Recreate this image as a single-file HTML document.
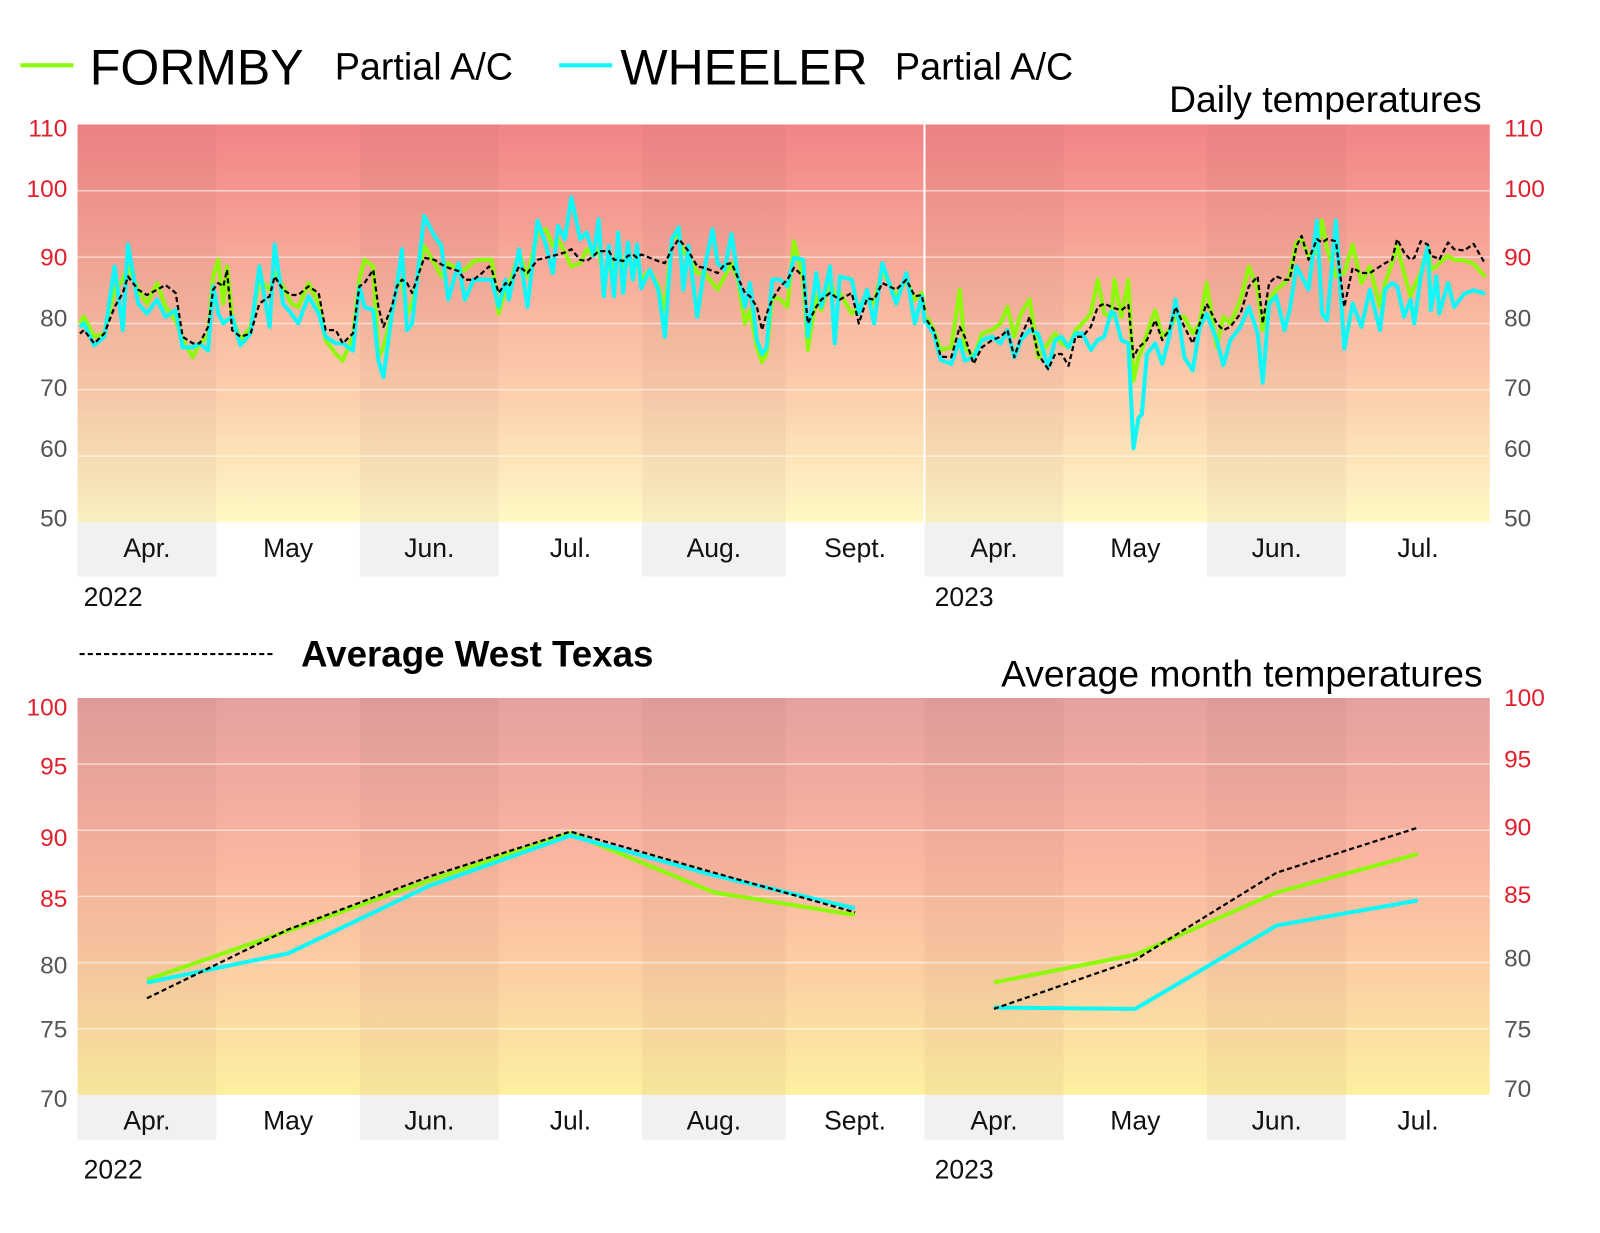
<!DOCTYPE html>
<html><head><meta charset="utf-8"><style>
html,body{margin:0;padding:0;background:#fff}
svg{display:block}
text{font-family:"Liberation Sans",Arial,sans-serif}
</style></head><body>
<svg id="chart" width="1600" height="1233" viewBox="0 0 1600 1233" xmlns="http://www.w3.org/2000/svg">
<defs>
<linearGradient id="gTop" x1="0" y1="0" x2="0" y2="1">
<stop offset="0" stop-color="#f28486"/><stop offset="0.45" stop-color="#f9b59f"/><stop offset="0.7" stop-color="#fcd2ae"/><stop offset="1" stop-color="#fffac6"/>
</linearGradient>
<linearGradient id="gBot" x1="0" y1="0" x2="0" y2="1">
<stop offset="0" stop-color="#e6a0a0"/><stop offset="0.4" stop-color="#fbb5a0"/><stop offset="0.7" stop-color="#fcd0a4"/><stop offset="1" stop-color="#fdf0a0"/>
</linearGradient>
</defs>
<g transform="scale(1.0204)">
<g id="legend">
<line x1="20" y1="64" x2="72" y2="64" stroke="#8ef90b" stroke-width="4"/>
<text x="88" y="83" font-size="49">FORMBY</text>
<text x="328" y="78" font-size="37">Partial A/C</text>
<line x1="548" y1="64" x2="600" y2="64" stroke="#11f7f7" stroke-width="4"/>
<text x="608" y="83" font-size="49">WHEELER</text>
<text x="877" y="78" font-size="37">Partial A/C</text>
<line x1="78" y1="641" x2="270" y2="641" stroke="#000" stroke-width="2" stroke-dasharray="5,3"/>
<text x="295" y="653" font-size="36" font-weight="bold">Average West Texas</text>
</g>
<text x="1452" y="110" font-size="36.5" text-anchor="end">Daily temperatures</text>
<text x="1453" y="673" font-size="36.5" text-anchor="end">Average month temperatures</text>
<g id="top"></g>
<g id="bot"></g>
</g>
</svg>
<script>
// ---- data ----
const monthLabels = ["Apr.","May","Jun.","Jul.","Aug.","Sept.","Apr.","May","Jun.","Jul."];
const monthDays = [30,31,30,31,31,30,30,31,30,31];
const yearLabels = ["2022","2023"];
const topTicks = [110,100,90,80,70,60,50];
const botTicks = [100,95,90,85,80,75,70];

const days2022 = [0,0.9,3.1,5.3,7.5,9.3,10.4,12.6,14.5,16.7,18.5,20.7,22.2,24.4,25.9,27.7,28.8,29.9,31.0,31.8,32.9,34.7,36.9,38.8,41.0,42.1,43.9,45.7,47.2,49.4,51.6,53.1,55.3,56.8,59.0,60.4,61.5,63.4,64.5,65.6,67.4,68.5,69.6,70.7,71.8,74.4,76.6,78.1,79.6,81.8,83.2,85.1,86.9,88.4,
89.0,90.5,92.0,92.7,94.9,96.7,98.9,100.7,102.2,103.3,104.8,106.2,108.1,109.5,111.0,112.1,113.2,114.3,115.4,116.3,117.4,118.4,119.5,120.4,121.3,123.1,125.0,126.4,127.9,129.4,130.4,131.5,133.4,134.9,136.7,137.8,139.3,140.8,142.2,143.7,144.8,146.3,147.4,148.4,149.6,151.4,152.9,154.3,156.3,157.3,159.1,160.2,162.1,163.1,164.2,166.8,168.3,170.1,171.6,173.4,176.4,178.6,180.4,181.9,182.6];
const wheeler2022 = [79.5,80.0,76.7,78.0,88.6,79.0,91.9,83.0,81.5,83.6,81.0,82.0,76.4,76.4,77.0,75.9,85.6,81.5,80.0,80.5,81.0,76.7,78.5,88.6,79.5,91.9,83.0,81.5,80.0,84.1,81.5,78.0,77.0,77.0,75.9,85.6,82.5,82.0,74.4,71.9,81.5,85.6,91.2,79.0,80.0,96.2,93.2,91.7,83.6,89.1,83.6,86.6,86.6,86.6,
86.6,82.5,86.6,83.6,91.2,82.5,95.5,91.9,87.6,94.7,92.7,99.0,92.7,93.7,90.2,95.7,84.1,91.7,84.1,93.7,84.6,92.2,86.6,91.9,85.3,88.1,85.1,78.0,92.7,94.5,85.1,91.7,81.0,88.1,94.2,89.1,88.1,93.5,87.1,82.5,86.1,77.5,75.4,76.4,86.6,86.6,85.6,89.9,89.6,78.0,87.6,82.5,88.6,77.0,87.1,86.6,81.5,85.1,80.0,89.1,83.0,87.6,80.0,84.1,80.0];
const formby2022 = [80.0,81.0,78.0,78.5,85.1,86.6,88.6,85.1,83.0,86.1,82.5,80.5,77.5,74.9,77.0,78.0,87.1,89.6,83.0,88.6,81.0,77.5,79.5,86.6,85.1,87.6,85.6,83.0,82.5,86.1,83.0,77.5,75.4,74.4,78.0,86.6,89.6,88.6,74.9,76.4,81.5,85.6,86.6,81.5,83.0,91.7,89.1,87.1,89.1,88.1,88.1,89.4,89.6,89.6,
89.6,81.5,85.1,85.6,90.7,87.1,93.7,94.2,91.7,92.7,90.7,88.6,89.1,91.2,90.2,91.2,86.6,88.6,88.6,91.7,88.6,89.6,88.6,89.6,86.6,88.1,85.6,82.0,92.7,93.2,90.7,90.2,87.6,87.6,86.1,85.1,87.1,89.1,86.6,80.0,82.0,76.4,74.2,75.4,84.1,83.6,82.5,92.4,86.6,76.0,84.1,82.0,86.6,84.1,84.6,81.5,82.5,84.1,83.0,88.1,84.1,86.6,83.6,84.6,81.5];
const avg2022 = [78.5,79.0,77.0,78.5,82.5,84.6,87.1,85.1,84.3,85.1,85.8,84.6,78.0,77.0,77.0,79.5,85.1,86.1,85.6,88.1,79.0,78.0,78.5,83.0,84.1,87.1,85.1,84.3,84.3,85.6,84.6,79.0,79.0,77.0,78.5,85.6,86.1,88.1,82.5,79.5,82.5,85.6,86.6,86.1,84.6,89.9,89.6,88.9,88.4,87.9,86.6,86.6,87.6,88.6,
88.1,84.6,86.1,85.6,88.6,87.6,89.6,89.9,90.2,90.4,90.7,91.2,89.6,89.4,90.2,90.9,90.9,90.9,89.6,89.6,89.4,90.2,90.4,89.9,90.4,89.9,89.4,89.1,91.2,92.7,91.9,90.9,88.6,88.4,87.9,87.6,88.9,89.1,86.9,84.6,84.1,82.5,79.0,81.5,83.6,85.6,86.6,88.4,87.1,80.0,82.5,83.6,84.6,84.1,83.6,84.6,80.0,83.8,83.6,86.1,85.1,86.6,84.1,84.3,81.8];

const days2023 = [0,1.5,3,5.3,7.1,8.2,10.1,11.9,14.1,15.9,17.4,18.9,20.3,22.2,24.0,26.2,27.7,29.1,30.6,32.1,33.6,35.4,36.9,38.3,39.8,40.5,42.0,43.5,44.6,45.7,46.4,47.5,49.3,50.8,52.3,53.7,55.6,57.4,58.9,60.4,62.6,64.0,65.5,67.7,69.5,71.4,72.5,73.9,75.4,77.2,78.3,79.8,80.9,82.4,84.2,85.3,86.4,88.3,90.1,91.9,93.8,95.6,97.8,98.9,100.4,101.5,103.0,104.4,105.2,106.6,108.1,108.8,110.0,110.6,112.5,113.8,116,118,120.5];
const wheeler2023 = [80.0,78.5,74.5,73.9,77.5,74.4,74.9,77.5,78.0,77.0,79.0,74.9,77.5,79.0,78.5,73.4,77.5,78.0,76.4,78.5,78.5,76.0,77.5,78.0,81.8,81.5,77.5,77.0,61.2,65.8,66.3,75.4,77.0,73.9,78.0,83.6,74.9,72.9,79.5,81.5,77.5,73.7,77.5,79.5,82.5,78.5,71.1,83.0,84.1,79.0,82.0,88.6,87.1,85.1,95.5,81.5,80.5,95.5,76.2,83.0,79.5,85.1,79.0,85.1,86.1,85.6,81.0,83.6,80.0,87.1,91.7,82.0,87.1,81.5,86.1,82.5,84.5,85.0,84.5];
const formby2023 = [81.0,79.0,76.0,76.4,85.1,76.4,74.9,78.5,79.0,80.0,82.5,78.0,81.5,83.6,74.9,77.0,78.5,77.0,76.4,79.0,80.0,81.5,86.6,81.5,81.0,86.6,81.0,86.6,71.4,74.9,76.0,78.5,82.0,78.0,79.0,81.0,81.0,78.5,80.0,86.1,76.4,81.0,80.0,83.6,88.6,85.1,79.0,83.6,85.1,86.1,87.1,92.2,92.7,90.2,90.7,95.5,91.2,87.1,87.6,91.9,86.1,88.6,82.5,86.1,89.1,91.7,87.6,84.1,85.6,87.6,91.7,88.1,88.6,89.1,90.2,89.6,89.5,89.0,87.0];
const avg2023 = [80.5,79.0,75.0,74.9,79.5,78.0,73.9,76.4,77.5,78.0,79.0,74.9,78.0,81.0,75.4,73.1,75.4,75.4,73.6,78.0,78.0,79.5,82.5,83.0,82.5,82.3,82.0,82.8,74.9,76.4,76.8,77.5,80.5,77.5,79.0,82.5,79.5,77.0,80.0,83.0,80.0,79.0,79.5,81.5,85.6,87.1,80.0,86.1,87.1,86.6,86.6,91.7,93.2,89.6,92.7,92.2,92.7,92.4,82.5,88.4,87.6,87.6,88.6,89.1,89.6,92.7,90.7,89.6,89.9,92.4,91.9,90.2,89.9,89.6,92.2,91.2,91.0,92.0,89.0];

const formbyMonthly2022 = [78.7,82.4,86.2,89.8,85.3,83.6];
const wheelerMonthly2022 = [78.5,80.7,85.8,89.6,86.6,84.1];
const avgMonthly2022 = [77.3,82.5,86.5,89.9,86.8,83.8];
const formbyMonthly2023 = [78.5,80.6,85.3,88.2];
const wheelerMonthly2023 = [76.6,76.5,82.8,84.7];
const avgMonthly2023 = [76.5,80.2,86.8,90.2];

// ---- layout ----
const NS = "http://www.w3.org/2000/svg";
const X0 = 76, X1 = 1460, XMID = 906;
const pxDay2022 = (XMID - X0) / 183, pxDay2023 = (X1 - XMID) / 122;
function mk(tag, attrs, parent) {
  const el = document.createElementNS(NS, tag);
  for (const k in attrs) el.setAttribute(k, attrs[k]);
  parent.appendChild(el);
  return el;
}
function xDay(year, d) { return year === 0 ? X0 + (d + 0.5) * pxDay2022 : XMID + (d + 0.5) * pxDay2023; }
const monthStarts = []; { let x = X0; for (let i = 0; i < monthDays.length; i++) { monthStarts.push(x); x += monthDays[i] * (i < 6 ? pxDay2022 : pxDay2023); } monthStarts.push(X1); }

function panel(g, top, bot, vmax, vmin, grad, ticks, redMin, tickOffsets, rightOffsets) {
  const yS = v => top + (vmax - v) / (vmax - vmin) * (bot - top);
  const bg = mk("rect", {x: X0, y: top, width: X1 - X0, height: bot - top, fill: grad}, g);
  
  
  for (let i = 0; i < monthLabels.length; i++) {
    const w = monthStarts[i + 1] - monthStarts[i];
    if (i % 2 === 0) {
      const sh = mk("rect", {x: monthStarts[i], y: top, width: w, height: bot - top, fill: "rgba(120,60,60,0.05)"}, g);
      
      
      const lb = mk("rect", {x: monthStarts[i], y: bot, width: w, height: (top < 300 ? 53 : 44), fill: "#f1f1f1"}, g);
      
      
    }
    const t = mk("text", {x: monthStarts[i] + w / 2, y: bot + 34, "font-size": 26, "text-anchor": "middle", fill: "#111"}, g);
    
    
    t.textContent = monthLabels[i];
  }
  ticks.forEach((v, i) => {
    if (v < vmax && v > vmin) {
      const gl = mk("line", {x1: X0, x2: X1, y1: yS(v), y2: yS(v), stroke: "rgba(255,255,255,0.55)", "stroke-width": 1.5}, g);
      
      
    }
    const col = v >= redMin ? "#e0202c" : "#555";
    const tl = mk("text", {x: 66, y: tickOffsets[i], "font-size": 24, "text-anchor": "end", fill: col}, g);
    
    
    tl.textContent = v;
    const tr = mk("text", {x: 1474, y: rightOffsets[i], "font-size": 24, fill: col}, g);
    
    
    tr.textContent = v;
  });
  const y1 = mk("text", {x: 82, y: bot + 82, "font-size": 26, fill: "#111"}, g);
  
  
  y1.textContent = yearLabels[0];
  const y2 = mk("text", {x: 916, y: bot + 82, "font-size": 26, fill: "#111"}, g);
  
  
  y2.textContent = yearLabels[1];
  return yS;
}
function line(g, xs, ys, yS, color, w, dash, name) {
  const d = xs.map((x, i) => (i ? "L" : "M") + x.toFixed(1) + "," + yS(ys[i]).toFixed(1)).join("");
  const p = mk("path", {d: d, fill: "none", stroke: color, "stroke-width": w, "stroke-linejoin": "round"}, g);
  if (dash) p.setAttribute("stroke-dasharray", dash);
  
  
}

// top panel
const gt = document.getElementById("top");
const yT = panel(gt, 122, 512, 110, 50, "url(#gTop)", topTicks, 90, [134,193,260,320,388,448,516], [134,193,260,320,388,448,516]);
const sep = mk("line", {x1: XMID, x2: XMID, y1: 122, y2: 512, stroke: "#fff", "stroke-width": 2}, gt);


const xs22 = days2022.map(d => xDay(0, d)), xs23 = days2023.map(d => xDay(1, d));
line(gt, xs22, formby2022, yT, "#8ef90b", 4, null, "formby-daily-2022");
line(gt, xs23, formby2023, yT, "#8ef90b", 4, null, "formby-daily-2023");
line(gt, xs22, wheeler2022, yT, "#11f7f7", 4, null, "wheeler-daily-2022");
line(gt, xs23, wheeler2023, yT, "#11f7f7", 4, null, "wheeler-daily-2023");
line(gt, xs22, avg2022, yT, "#000", 2.2, "5,3", "average-daily-2022");
line(gt, xs23, avg2023, yT, "#000", 2.2, "5,3", "average-daily-2023");

// bottom panel
const gb = document.getElementById("bot");
const yB = panel(gb, 684, 1073, 100, 70, "url(#gBot)", botTicks, 85, [701,759,829,889,954,1017,1085], [692,752,819,885,947,1017,1075]);
const mx = i => (monthStarts[i] + monthStarts[i + 1]) / 2;
const mx22 = formbyMonthly2022.map((v, i) => mx(i)), mx23 = formbyMonthly2023.map((v, i) => mx(i + 6));
line(gb, mx22, formbyMonthly2022, yB, "#8ef90b", 4, null, "formby-monthly-2022");
line(gb, mx23, formbyMonthly2023, yB, "#8ef90b", 4, null, "formby-monthly-2023");
line(gb, mx22, wheelerMonthly2022, yB, "#11f7f7", 4, null, "wheeler-monthly-2022");
line(gb, mx23, wheelerMonthly2023, yB, "#11f7f7", 4, null, "wheeler-monthly-2023");
line(gb, mx22, avgMonthly2022, yB, "#000", 2.2, "5,3", "average-monthly-2022");
line(gb, mx23, avgMonthly2023, yB, "#000", 2.2, "5,3", "average-monthly-2023");
</script>
</body></html>
